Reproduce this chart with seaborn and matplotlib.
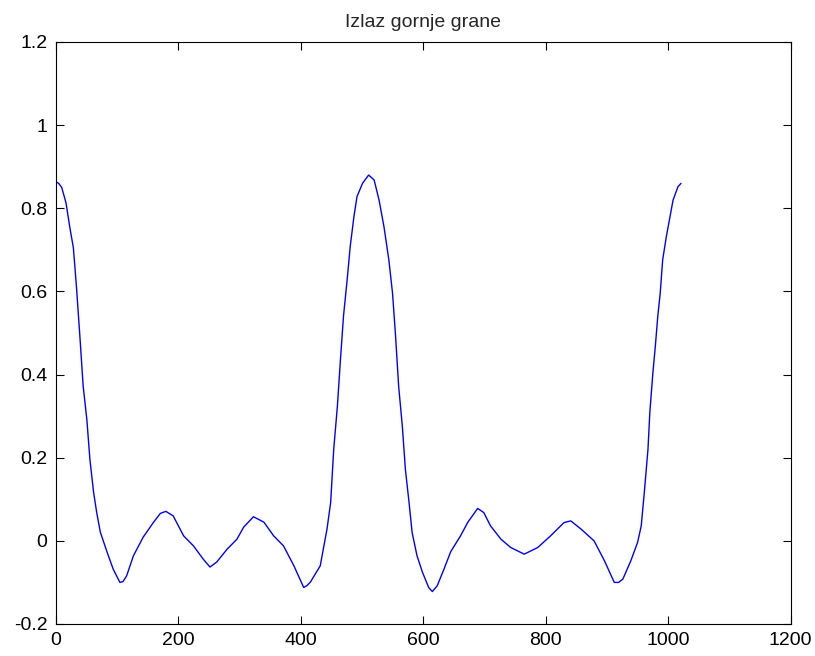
import matplotlib
matplotlib.use("Agg")
import matplotlib.pyplot as plt
import seaborn as sns
import pandas as pd

# ---- data ----
sample = [0, 5, 10, 17, 23, 29, 34, 40, 45, 51, 56, 62, 67, 73, 84, 94, 105, 110,
          116, 127, 143, 160, 171, 180, 192, 209, 225, 241, 252, 263, 280, 296, 307,
          323, 340, 356, 372, 389, 405, 410, 416, 432, 443, 449, 454, 460, 465, 470,
          476, 481, 487, 492, 501, 511, 520, 528, 536, 544, 550, 555, 560, 566, 571,
          577, 582, 590, 599, 609, 615, 623, 634, 645, 661, 673, 689, 699, 710, 727,
          743, 765, 787, 808, 830, 841, 858, 879, 896, 912, 919, 926, 939, 950, 956,
          961, 967, 970, 975, 979, 983, 987, 991, 997, 1002, 1008, 1016, 1021]
output = [0.864, 0.860, 0.850, 0.813, 0.756, 0.705, 0.612, 0.484, 0.372, 0.292, 0.196,
          0.117, 0.069, 0.021, -0.027, -0.068, -0.100, -0.098, -0.084, -0.036, 0.009,
          0.045, 0.066, 0.071, 0.060, 0.012, -0.012, -0.044, -0.063, -0.051, -0.020,
          0.004, 0.033, 0.058, 0.045, 0.012, -0.012, -0.060, -0.112, -0.108, -0.099,
          -0.060, 0.028, 0.092, 0.220, 0.324, 0.436, 0.541, 0.629, 0.709, 0.780, 0.828,
          0.860, 0.880, 0.868, 0.820, 0.756, 0.676, 0.596, 0.492, 0.372, 0.276, 0.172,
          0.092, 0.020, -0.036, -0.076, -0.112, -0.122, -0.108, -0.068, -0.026, 0.012,
          0.045, 0.078, 0.068, 0.036, 0.004, -0.016, -0.032, -0.016, 0.012, 0.044,
          0.048, 0.028, 0.000, -0.048, -0.100, -0.100, -0.092, -0.048, -0.004, 0.036,
          0.116, 0.220, 0.308, 0.404, 0.468, 0.540, 0.596, 0.676, 0.732, 0.772, 0.820,
          0.852, 0.860]

x_ticks = [0, 200, 400, 600, 800, 1000, 1200]
x_tick_labels = ["0", "200", "400", "600", "800", "1000", "1200"]
y_ticks = [-0.2, 0.0, 0.2, 0.4, 0.6, 0.8, 1.0, 1.2]
y_tick_labels = ["-0.2", "0", "0.2", "0.4", "0.6", "0.8", "1", "1.2"]
title_text = "Izlaz gornje grane"

df = pd.DataFrame({"n": sample, "y": output})

sns.set_style("white")
plt.rcParams["font.family"] = ["Liberation Sans", "DejaVu Sans"]

fig = plt.figure(figsize=(8.15, 6.56), dpi=100)
ax = fig.add_axes([55.6 / 815, 1 - 624 / 656, (790.7 - 55.6) / 815, (624 - 42) / 656])

sns.lineplot(data=df, x="n", y="y", ax=ax, color="#0000ff", linewidth=1.0,
             estimator=None, sort=False)

ax.set_xlim(0, 1200)
ax.set_ylim(-0.2, 1.2)
ax.set_xticks(x_ticks)
ax.set_xticklabels(x_tick_labels)
ax.set_yticks(y_ticks)
ax.set_yticklabels(y_tick_labels)
ax.set_xlabel("")
ax.set_ylabel("")
ax.tick_params(direction="in", length=5.5, width=0.8, colors="black",
               labelsize=14, pad=6, top=True, right=True,
               bottom=True, left=True)
for sp in ax.spines.values():
    sp.set_visible(True)
    sp.set_color("black")
    sp.set_linewidth(0.8)
ax.set_title(title_text, fontsize=14, pad=11)

fig.savefig("out.png", dpi=100, facecolor="white")
